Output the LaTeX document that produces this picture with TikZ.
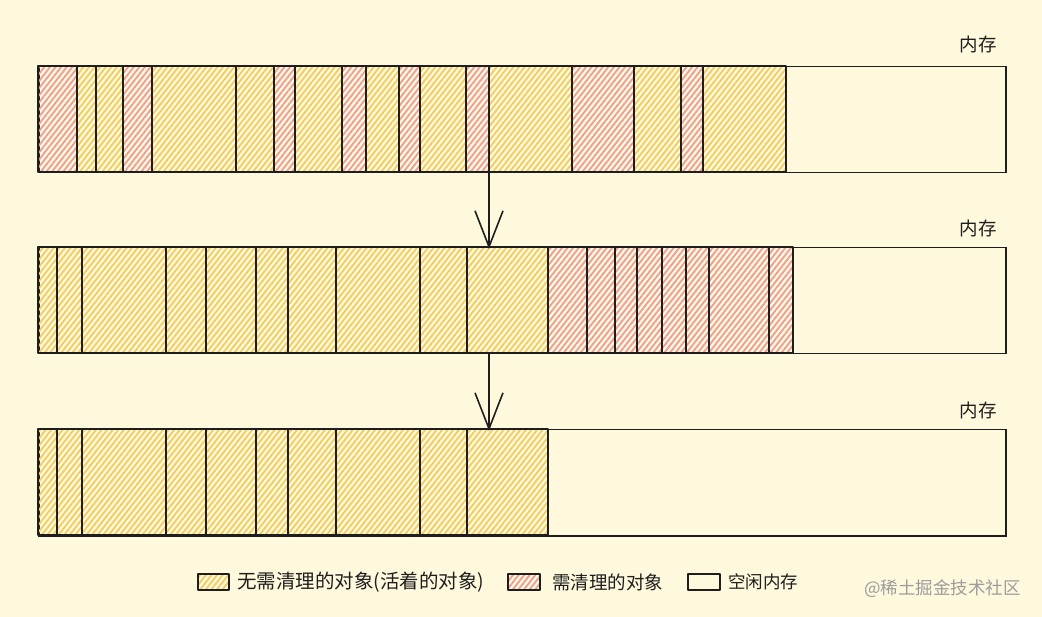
\documentclass[tikz,border=0pt]{standalone}
\usepackage{fontspec}
\setmainfont{Noto Sans CJK SC}
\usetikzlibrary{patterns.meta,arrows.meta}
\definecolor{bg}{HTML}{FEF8DD}
\definecolor{hy}{HTML}{F2CC5C}
\definecolor{hr}{HTML}{EF9C96}
\definecolor{ink}{HTML}{1E1E1E}
\definecolor{wmgray}{HTML}{9C9C9C}
\begin{document}
\begin{tikzpicture}[x=1pt,y=-1pt,
  seg/.style={draw=ink,line width=2.2pt,line join=round},
  live/.style={seg,pattern={Lines[angle=52,distance=4.4pt,line width=1.8pt]},pattern color=hy},
  dead/.style={seg,pattern={Lines[angle=52,distance=4.4pt,line width=1.8pt]},pattern color=hr},
  free/.style={seg,line width=1.4pt},
  bar/.style={draw=ink,line width=1.5pt,minimum width=967pt,minimum height=106pt,anchor=north west,inner sep=0pt},
  lbl/.style={font=\fontsize{18.5}{20}\selectfont,text=ink,inner sep=0pt},
  arr/.style={draw=ink,line width=1.6pt,-{Straight Barb[length=36pt,width=28pt,line width=1.6pt]}},
]
\fill[bg] (0,0) rectangle (1042,617);
\useasboundingbox (0,0) rectangle (1042,617);

% bars
\node[bar] (bar1) at (38,66) {};
\node[bar] (bar2) at (38,247) {};
\node[bar] (bar3) at (38,429) {};

% top row
\foreach \a/\b/\s in {38/77/dead,77/96/live,96/123/live,123/152/dead,152/236/live,236/274/live,274/295/dead,295/342/live,342/366/dead,366/399/live,399/420/dead,420/466/live,466/489/dead,489/572/live,572/634/dead,634/681/live,681/703/dead,703/786/live}
  \draw[\s] (\a,66) rectangle (\b,172);

% middle row
\foreach \a/\b/\s in {38/57/live,57/82/live,82/166/live,166/206/live,206/256/live,256/288/live,288/336/live,336/420/live,420/467/live,467/548/live,548/587/dead,587/615/dead,615/637/dead,637/662/dead,662/686/dead,686/709/dead,709/769/dead,769/793/dead}
  \draw[\s] (\a,247) rectangle (\b,353);

% bottom row
\foreach \a/\b/\s in {38/57/live,57/82/live,82/166/live,166/206/live,206/256/live,256/288/live,288/336/live,336/420/live,420/467/live,467/548/live}
  \draw[\s] (\a,429) rectangle (\b,535);

% labels
\node[lbl] (m1) at (978,44) {内存};
\node[lbl] (m2) at (978,228) {内存};
\node[lbl] (m3) at (978,410) {内存};

% arrows
\coordinate (a1s) at (489,172);
\coordinate (a1e) at (489,249);
\coordinate (a2s) at (489,353);
\coordinate (a2e) at (489,431);
\draw[arr] (a1s) -- (a1e);
\draw[arr] (a2s) -- (a2e);

% legend
\draw[live,line width=1.5pt] (198,574) rectangle (229,590);
\node[lbl,anchor=west,font=\fontsize{19.5}{21}\selectfont] (l1) at (237,582) {无需清理的对象(活着的对象)};
\draw[dead,line width=1.5pt] (508,574) rectangle (540,590);
\node[lbl,anchor=west] (l2) at (552,582) {需清理的对象};
\draw[free] (688,574) rectangle (720,590);
\node[lbl,anchor=west,font=\fontsize{17.5}{19}\selectfont] (l3) at (728,582) {空闲内存};

% watermark
\node[font=\fontsize{17.5}{19}\selectfont,text=wmgray,anchor=west,inner sep=0pt] (wm) at (864,589) {@稀土掘金技术社区};
\end{tikzpicture}
\end{document}
